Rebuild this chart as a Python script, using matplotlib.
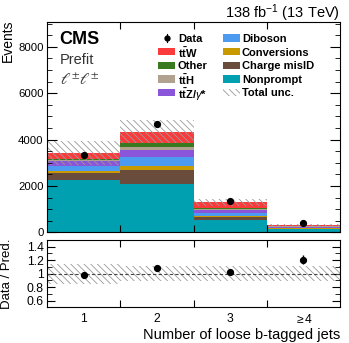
import numpy as np
import matplotlib
matplotlib.use("Agg")
import matplotlib.pyplot as plt
from matplotlib.patches import Rectangle
from matplotlib.lines import Line2D
from matplotlib.ticker import MultipleLocator, FixedLocator, FixedFormatter

plt.rcParams['font.family'] = ['Liberation Sans', 'DejaVu Sans']
plt.rcParams['mathtext.fontset'] = 'custom'
plt.rcParams['mathtext.rm'] = 'Liberation Sans'
plt.rcParams['mathtext.it'] = 'Liberation Sans:italic'
plt.rcParams['mathtext.bf'] = 'Liberation Sans:bold'
plt.rcParams['hatch.linewidth'] = 0.6
plt.rcParams['hatch.color'] = '#999999'

# ---------------- data ----------------
categories = ["1", "2", "3", r"$\geq$4"]
nonprompt   = [2254, 2082, 543, 130]
chargemisid = [315, 603, 116, 25]
conversions = [86, 173, 56, 15]
diboson     = [216, 375, 104, 25]
ttZ         = [202, 314, 142, 50]
ttH         = [43, 117, 49, 12]
other       = [43, 172, 50, 13]
ttW         = [246, 500, 233, 55]
data        = [3340, 4670, 1330, 393]
rel_unc     = [0.15, 0.115, 0.11, 0.11]

proc_names = ["Nonprompt", "Charge misID", "Conversions", "Diboson",
              r"$\mathbf{t\bar{t}Z/}\gamma$*", r"$\mathbf{t\bar{t}H}$", "Other",
              r"$\mathbf{t\bar{t}W}$"]
proc_vals = [nonprompt, chargemisid, conversions, diboson, ttZ, ttH, other, ttW]
proc_cols = ["#00A0B0", "#6A4C3C", "#C99A00", "#4C9BF0",
             "#8A55D8", "#B1A290", "#3A7A1E", "#FB3B3B"]

W, H = 349, 343
def fx(x):
    return x / W
def fy(y):
    return 1 - y / H

# ---------------- figure ----------------
fig = plt.figure(figsize=(W / 100, H / 100), dpi=100)
ax = fig.add_axes([fx(47), fy(232.3), fx(340) - fx(47), fy(21.7) - fy(232.3)])
rax = fig.add_axes([fx(47), fy(307.3), fx(340) - fx(47), fy(240) - fy(307.3)])

n = len(categories)
centers = np.arange(1, n + 1)
edges = np.arange(0.5, n + 1.0, 1.0)

bottom = np.zeros(n)
for name, vals, col in zip(proc_names, proc_vals, proc_cols):
    v = np.array(vals, dtype=float)
    ax.bar(centers, v, width=1.0, bottom=bottom, color=col, edgecolor='none', linewidth=0)
    bottom += v
total = bottom
unc = total * np.array(rel_unc)

HATCH = '\\\\\\\\\\'
ustep_lo = np.append(total - unc, (total - unc)[-1])
ustep_hi = np.append(total + unc, (total + unc)[-1])
ax.fill_between(edges, ustep_lo, ustep_hi, step='post', facecolor='none',
                edgecolor='#999999', hatch=HATCH, linewidth=0)

d = np.array(data, dtype=float)
ax.errorbar(centers, d, yerr=np.sqrt(d), fmt='o', color='black', markersize=4.2,
            elinewidth=1, capsize=0)

ax.set_xlim(0.5, n + 0.5)
ax.set_ylim(0, 9080)
ax.yaxis.set_major_locator(MultipleLocator(2000))
ax.yaxis.set_minor_locator(MultipleLocator(500))
ax.xaxis.set_major_locator(FixedLocator(edges[1:-1]))
ax.set_xticklabels([])
ax.tick_params(axis='both', which='both', direction='in', top=True, right=True,
               labelsize=8.2, pad=2.5)
ax.tick_params(axis='y', which='major', length=7)
ax.tick_params(axis='y', which='minor', length=3.5)
ax.tick_params(axis='x', which='major', length=5)

fig.text(fx(1), fy(20), "Events", rotation=90, ha='left', va='top', fontsize=10)

# texts
fig.text(fx(59), fy(31), "CMS", fontsize=13, fontweight='bold', va='top', ha='left')
fig.text(fx(59.5), fy(53), "Prefit", fontsize=10.5, va='top', ha='left', color='#333333')
fig.text(fx(59.5), fy(73), r"$\ell^{\pm}\ell^{\pm}$", fontsize=11.5, va='top', ha='left',
         color='#333333', math_fontfamily='stix')
fig.text(fx(340), fy(2), r"138 fb$^{-1}$ (13 TeV)", fontsize=10.5, ha='right', va='top')

# legend (manual)
rows = [38, 51.7, 65.3, 79, 92.5]
col_patch = [158, 223]
col_text = [178, 242]
pw, ph = 17, 7.5
leg_entries = [("data", None, "Data")]
for idx in [7, 6, 5, 4]:
    leg_entries.append(("patch", proc_cols[idx], proc_names[idx]))
for idx in [3, 2, 1, 0]:
    leg_entries.append(("patch", proc_cols[idx], proc_names[idx]))
leg_entries.append(("hatch", None, "Total unc."))
for i, (kind, col, lab) in enumerate(leg_entries):
    c = i // 5
    r = i % 5
    y = rows[r]
    x0 = col_patch[c]
    if kind == "data":
        fig.add_artist(Line2D([fx(x0 + pw / 2)], [fy(y)], marker='o', color='black',
                              markersize=3.5, transform=fig.transFigure))
        fig.add_artist(Line2D([fx(x0 + pw / 2)] * 2, [fy(y - 4), fy(y + 4)], color='black',
                              linewidth=0.8, transform=fig.transFigure))
    elif kind == "patch":
        fig.add_artist(Rectangle((fx(x0), fy(y + ph / 2)), pw / W, ph / H, facecolor=col,
                                 edgecolor='none', transform=fig.transFigure))
    else:
        fig.add_artist(Rectangle((fx(x0), fy(y + ph / 2)), pw / W, ph / H, facecolor='none',
                                 edgecolor='#999999', hatch=HATCH, linewidth=0,
                                 transform=fig.transFigure))
    fig.text(fx(col_text[c]), fy(y), lab, fontsize=8, fontweight='bold',
             va='center_baseline', ha='left')

# ---------------- ratio ----------------
rband_lo = np.append(1 - np.array(rel_unc), 1 - rel_unc[-1])
rband_hi = np.append(1 + np.array(rel_unc), 1 + rel_unc[-1])
rax.fill_between(edges, rband_lo, rband_hi, step='post', facecolor='none',
                 edgecolor='#999999', hatch=HATCH, linewidth=0)
rax.axhline(1.0, color='#444444', linestyle='--', linewidth=0.8, dashes=(3, 2))
ratio = d / total
rerr = np.sqrt(d) / total
rax.errorbar(centers, ratio, yerr=rerr, fmt='o', color='black', markersize=4.2,
             elinewidth=1, capsize=0)
rax.set_xlim(0.5, n + 0.5)
rax.set_ylim(0.5, 1.5)
rax.yaxis.set_major_locator(FixedLocator([0.6, 0.8, 1.0, 1.2, 1.4]))
rax.yaxis.set_major_formatter(FixedFormatter(["0.6", "0.8", "1", "1.2", "1.4"]))
rax.yaxis.set_minor_locator(MultipleLocator(0.1))
rax.xaxis.set_major_locator(FixedLocator(edges[1:-1]))
rax.xaxis.set_minor_locator(FixedLocator(centers))
rax.xaxis.set_major_formatter(FixedFormatter(["", "", ""]))
rax.xaxis.set_minor_formatter(FixedFormatter(categories))
rax.tick_params(axis='both', which='both', direction='in', top=True, right=True,
                labelsize=8.7, pad=2.5)
rax.tick_params(axis='x', which='minor', length=0, pad=4, labelsize=8.7)
rax.tick_params(axis='x', which='major', length=5)
rax.tick_params(axis='y', which='major', length=6)
rax.tick_params(axis='y', which='minor', length=3.5)

fig.text(fx(1), fy(273.5), "Data / Pred.", rotation=90, ha='left', va='center', fontsize=9.5)
fig.text(fx(340), fy(339), "Number of loose b-tagged jets", ha='right', va='baseline',
         fontsize=10.5)

fig.savefig("out.png", dpi=100)
